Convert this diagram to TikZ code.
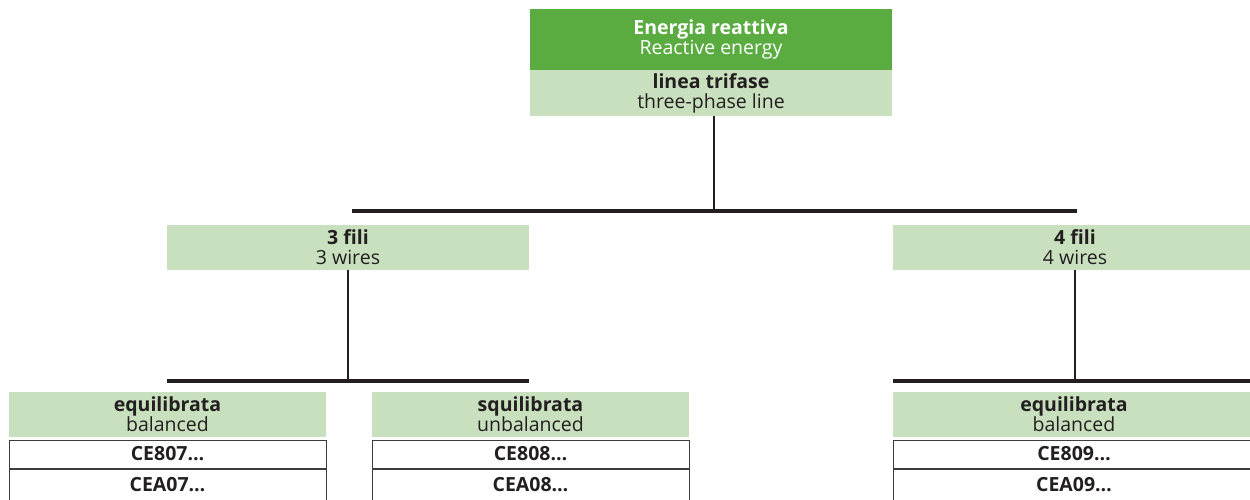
\documentclass[tikz,border=0pt]{standalone}
\usepackage{fontspec}
\setmainfont{Open Sans}
\definecolor{dkgreen}{RGB}{90,172,64}
\definecolor{ltgreen}{RGB}{200,224,190}
\definecolor{txt}{RGB}{35,31,32}
\definecolor{edge}{RGB}{60,60,60}
\begin{document}
\begin{tikzpicture}[x=1pt,y=-1pt,
  box/.style={rectangle,inner sep=0pt,align=center,font=\fontsize{19.5}{20}\selectfont,text=txt},
  head/.style={box,fill=dkgreen,text=white},
  cat/.style={box,fill=ltgreen},
  code/.style={box,fill=white,draw=edge,line width=1pt,font=\fontsize{19.5}{20}\selectfont\bfseries},
  wire/.style={draw=txt,line width=1.2pt},
  bar/.style={draw=txt,line width=3.5pt}]
\useasboundingbox (0,0) rectangle (1250,499);
\clip (0,0) rectangle (1250,499);
% top
\node[head,minimum width=362pt,minimum height=61pt] (top) at (711,39.5) {\textbf{Energia reattiva}\\Reactive energy};
\node[cat,minimum width=362pt,minimum height=46pt] (line) at (711,93) {\textbf{linea trifase}\\three-phase line};
% bar 1
\coordinate (b1l) at (352,211);
\coordinate (b1r) at (1077,211);
\coordinate (b1m) at (714,211);
\draw[bar] (b1l) -- (b1r);
\draw[wire] (line.south -| b1m) -- (b1m);
% second level
\node[cat,minimum width=362pt,minimum height=45pt] (three) at (348,247.5) {\textbf{3 fili}\\3 wires};
\node[cat,minimum width=364pt,minimum height=45pt] (four) at (1075,247.5) {\textbf{4 fili}\\4 wires};
\coordinate (b2l) at (167,381);
\coordinate (b2r) at (529,381);
\coordinate (b3l) at (893,381);
\coordinate (b3r) at (1260,381);
\draw[bar] (b2l) -- (b2r);
\draw[bar] (b3l) -- (b3r);
\draw[wire] (three.south) -- (three.south |- b2l);
\draw[wire] (four.south) -- (four.south |- b3l);
% third level
\node[cat,minimum width=317pt,minimum height=45pt] (eqa) at (167.5,414.5) {\textbf{equilibrata}\\balanced};
\node[cat,minimum width=317pt,minimum height=45pt] (sq) at (530.5,414.5) {\textbf{squilibrata}\\unbalanced};
\node[cat,minimum width=362pt,minimum height=45pt] (eqb) at (1074,414.5) {\textbf{equilibrata}\\balanced};
% codes
\node[code,minimum width=317pt,minimum height=28pt] (c1) at (167.5,454) {CE807…};
\node[code,minimum width=317pt,minimum height=32pt,anchor=north] (d1) at (c1.south) {CEA07…};
\node[code,minimum width=317pt,minimum height=28pt] (c2) at (530.5,454) {CE808…};
\node[code,minimum width=317pt,minimum height=32pt,anchor=north] (d2) at (c2.south) {CEA08…};
\node[code,minimum width=362pt,minimum height=28pt] (c3) at (1074,454) {CE809…};
\node[code,minimum width=362pt,minimum height=32pt,anchor=north] (d3) at (c3.south) {CEA09…};
\end{tikzpicture}
\end{document}
